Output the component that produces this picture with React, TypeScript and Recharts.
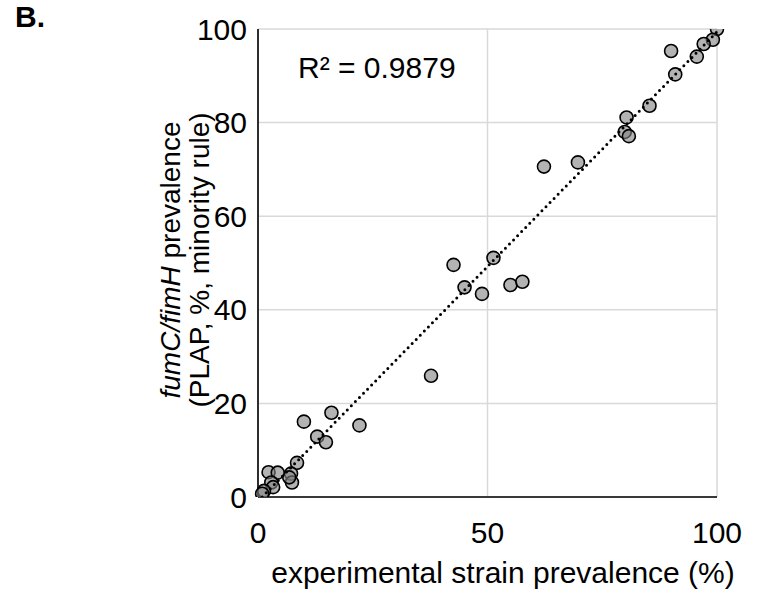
import { CartesianGrid, Scatter, ScatterChart, XAxis, YAxis } from 'recharts';

// experimental strain prevalence (%) vs fumC/fimH prevalence (PLAP, %, minority rule)
const strainPct = [
  100, 99.1, 97.1, 95.6, 90.0, 90.9, 85.3, 80.3, 79.9, 80.8, 69.7, 62.3,
  42.6, 51.3, 45.0, 48.8, 55.0, 57.6, 37.7,
  16.0, 22.1, 10.0, 12.9, 14.8,
  8.5, 7.2, 7.4, 6.8, 2.3, 4.3, 2.9, 3.3, 1.3, 0.9,
];
const plapPct = [
  100, 97.7, 96.8, 94.1, 95.3, 90.3, 83.6, 81.1, 78.0, 77.1, 71.5, 70.6,
  49.6, 51.1, 44.8, 43.4, 45.3, 46.0, 25.9,
  18.0, 15.3, 16.1, 12.9, 11.7,
  7.3, 5.0, 3.1, 4.2, 5.3, 5.2, 3.1, 2.1, 1.3, 0.7,
];

// trendline end points
const trendX = [0.9, 100];
const trendY = [0.0, 99.4];

const xTicks = [0, 50, 100];
const yTicks = [0, 20, 40, 60, 80, 100];

const points = strainPct.map((x, i) => ({ x, y: plapPct[i] }));
const trend = trendX.map((x, i) => ({ x, y: trendY[i] }));

const FONT = '"Liberation Sans", Arial, sans-serif';
const GRID = '#d9d9d9';

const Dot = (props: any) => (
  <circle
    cx={props.cx}
    cy={props.cy}
    r={6.5}
    fill="#808080"
    fillOpacity={0.6}
    stroke="#000"
    strokeWidth={1.6}
  />
);

const NoDot = () => <g />;

export default function App() {
  return (
    <div style={{ position: 'absolute', left: 0, top: 0, width: 763, height: 592, background: '#fff' }}>
      <ScatterChart
        width={763}
        height={592}
        margin={{ top: 29, right: 46, bottom: 65, left: 198 }}
        style={{ fontFamily: FONT }}
      >
        <CartesianGrid stroke={GRID} strokeWidth={1.5} horizontalValues={yTicks} verticalValues={xTicks} />
        <XAxis
          type="number"
          dataKey="x"
          domain={[0, 100]}
          ticks={xTicks}
          tickLine={false}
          tickMargin={19}
          axisLine={{ stroke: '#000', strokeWidth: 1.6 }}
          tick={{ fontSize: 30, fill: '#000', fontFamily: FONT }}
          height={30}
        />
        <YAxis
          type="number"
          dataKey="y"
          domain={[0, 100]}
          ticks={yTicks}
          allowDataOverflow
          tickLine={false}
          tickMargin={5}
          axisLine={{ stroke: '#000', strokeWidth: 1.6 }}
          tick={{ fontSize: 30, fill: '#000', fontFamily: FONT }}
          width={60}
        />
        <Scatter data={points} shape={Dot} isAnimationActive={false} />
        <Scatter
          data={trend}
          shape={NoDot}
          line={{ stroke: '#000', strokeWidth: 3, strokeDasharray: '0 5.8', strokeLinecap: 'round' }}
          isAnimationActive={false}
        />
      </ScatterChart>
      <svg
        width={763}
        height={592}
        style={{ position: 'absolute', left: 0, top: 0, pointerEvents: 'none', fontFamily: FONT }}
      >
        <text x={15} y={27} fontSize={30} fontWeight="bold" fill="#000">
          B.
        </text>
        <text x={298} y={78} fontSize={30} fill="#000">
          R² = 0.9879
        </text>
        <text x={503} y={583} fontSize={30} fill="#000" textAnchor="middle">
          experimental strain prevalence (%)
        </text>
        <text transform="translate(180, 260) rotate(-90)" fontSize={28} fill="#000" textAnchor="middle">
          <tspan x={0} dy={0}>
            <tspan fontStyle="italic">fumC/fimH</tspan> prevalence
          </tspan>
          <tspan x={0} dy={29}>
            (PLAP, %, minority rule)
          </tspan>
        </text>
      </svg>
    </div>
  );
}
